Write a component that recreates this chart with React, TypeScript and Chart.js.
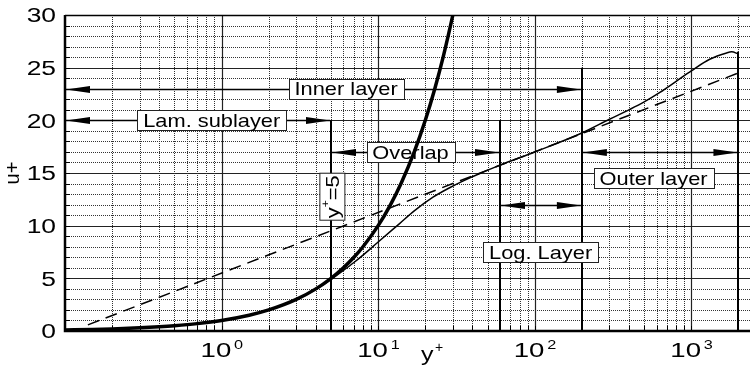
import React, { useEffect, useRef } from "react";
import { Chart, registerables } from "chart.js";

Chart.register(...registerables);

// ---- data ----
const yPlusLinear = [0.1, 0.15, 0.2, 0.3, 0.4, 0.5, 0.7, 1, 1.5, 2, 3, 4, 5, 6, 7, 8, 10, 12, 14, 17, 20, 23, 26, 30, 32];
const uLinear = [0.1, 0.15, 0.2, 0.3, 0.4, 0.5, 0.7, 1, 1.5, 2, 3, 4, 5, 6, 7, 8, 10, 12, 14, 17, 20, 23, 26, 30, 32];

const yPlusProfile = [0.1, 0.3, 1, 2, 3, 4, 5, 6, 7, 8, 10, 13.7, 17, 22.4, 28.6, 35, 44.6, 60, 100, 200, 300, 400, 500, 630, 800, 1000, 1310, 1680, 1810, 2000];
const uProfile = [0.1, 0.3, 1, 2, 2.98, 3.95, 4.9, 5.75, 6.5, 7.2, 8.45, 10.2, 11.4, 12.7, 13.6, 14.25, 14.95, 15.75, 17.0, 18.8, 20.1, 21.0, 21.75, 22.65, 23.7, 24.7, 25.8, 26.4, 26.5, 26.3];

const yPlusLogLaw = [0.14, 2000];
const uLogLaw = [0.58, 24.5];

const yTickValues = [0, 5, 10, 15, 20, 25, 30];
const xDecades = [1, 10, 100, 1000];
const xDecadeExponents = ["0", "1", "2", "3"];
const xMinorTicks = [0.2, 0.3, 0.4, 0.5, 0.6, 0.7, 0.8, 0.9, 2, 3, 4, 5, 6, 7, 8, 9, 20, 30, 40, 50, 60, 70, 80, 90, 200, 300, 400, 500, 600, 700, 800, 900, 2000];

const markerYPlus = [5, 60, 200, 2000];
const markerTopU = [20, 20, 25, 26.5];

const spanLabels = ["Inner layer", "Lam. sublayer", "Overlap", "Log. Layer", "Outer layer"];
const spanFrom = [0.1, 0.1, 5, 60, 200];
const spanTo = [200, 5, 60, 200, 2000];
const spanU = [23, 20, 17, 12, 17];
const labelYPlus = [6.24, 0.865, 16.1, 109, 574];
const labelU = [23, 20, 17, 7.5, 14.5];

const markerLabelYPlus = 5.1;
const markerLabelU = 12.75;

const FONT = '"Liberation Sans", Arial, sans-serif';

function drawText(ctx: CanvasRenderingContext2D, text: string, x: number, y: number, size: number, sx: number, align: string) {
  ctx.save();
  ctx.font = `${size}px ${FONT}`;
  const w = ctx.measureText(text).width * sx;
  const left = align === "center" ? x - w / 2 : align === "right" ? x - w : x;
  ctx.translate(left, y);
  ctx.scale(sx, 1);
  ctx.textAlign = "left";
  ctx.textBaseline = "alphabetic";
  ctx.fillStyle = "#000";
  ctx.fillText(text, 0, 0);
  ctx.restore();
  return w;
}

function measure(ctx: CanvasRenderingContext2D, text: string, size: number, sx: number) {
  ctx.save();
  ctx.font = `${size}px ${FONT}`;
  const w = ctx.measureText(text).width * sx;
  ctx.restore();
  return w;
}

function arrowHead(ctx: CanvasRenderingContext2D, tipX: number, y: number, dir: number) {
  const len = 24;
  const hw = 3.5;
  ctx.beginPath();
  ctx.moveTo(tipX, y);
  ctx.lineTo(tipX - dir * len, y - hw);
  ctx.lineTo(tipX - dir * len, y + hw);
  ctx.closePath();
  ctx.fill();
}

const layerPlugin = {
  id: "layers",
  beforeDatasetsDraw(chart: any) {
    const { ctx, chartArea: a, scales } = chart;
    const xs = scales.x;
    const ys = scales.y;
    ctx.save();
    ctx.fillStyle = "#fff";
    ctx.fillRect(a.left, a.top, a.right - a.left, a.bottom - a.top);

    // horizontal grid
    for (let u = 1; u < 30; u++) {
      const py = Math.round(ys.getPixelForValue(u)) + 0.5;
      ctx.beginPath();
      if (u % 5 === 0) {
        ctx.setLineDash([]);
        ctx.strokeStyle = "#222";
        ctx.lineWidth = 1.2;
      } else {
        ctx.setLineDash([1, 1]);
        ctx.strokeStyle = "#333";
        ctx.lineWidth = 1;
      }
      ctx.moveTo(a.left, py);
      ctx.lineTo(a.right, py);
      ctx.stroke();
    }
    // vertical grid
    for (const v of xMinorTicks) {
      const px = Math.round(xs.getPixelForValue(v)) + 0.5;
      ctx.beginPath();
      ctx.setLineDash([1, 1]);
      ctx.strokeStyle = "#333";
      ctx.lineWidth = 1;
      ctx.moveTo(px, a.top);
      ctx.lineTo(px, a.bottom);
      ctx.stroke();
    }
    for (const v of xDecades) {
      const px = Math.round(xs.getPixelForValue(v)) + 0.5;
      ctx.beginPath();
      ctx.setLineDash([]);
      ctx.strokeStyle = "#222";
      ctx.lineWidth = 1.2;
      ctx.moveTo(px, a.top);
      ctx.lineTo(px, a.bottom);
      ctx.stroke();
    }
    ctx.setLineDash([]);

    // inner tick marks
    ctx.strokeStyle = "#000";
    ctx.lineWidth = 1;
    for (let u = 1; u < 30; u++) {
      const py = Math.round(ys.getPixelForValue(u)) + 0.5;
      ctx.beginPath();
      ctx.moveTo(a.left, py);
      ctx.lineTo(a.left + 5, py);
      ctx.stroke();
    }
    for (const v of [...xMinorTicks, ...xDecades]) {
      const px = Math.round(xs.getPixelForValue(v)) + 0.5;
      ctx.beginPath();
      ctx.moveTo(px, a.bottom);
      ctx.lineTo(px, a.bottom - 5);
      ctx.stroke();
    }

    // borders
    ctx.strokeStyle = "#000";
    ctx.lineWidth = 1.5;
    ctx.beginPath();
    ctx.moveTo(a.left, a.top + 0.5);
    ctx.lineTo(a.right, a.top + 0.5);
    ctx.stroke();
    ctx.lineWidth = 2.5;
    ctx.beginPath();
    ctx.moveTo(a.left, a.top);
    ctx.lineTo(a.left, a.bottom);
    ctx.lineTo(a.right, a.bottom);
    ctx.stroke();

    // vertical markers
    ctx.lineWidth = 2;
    markerYPlus.forEach((v, i) => {
      const px = Math.round(xs.getPixelForValue(v));
      ctx.beginPath();
      ctx.moveTo(px, ys.getPixelForValue(0));
      ctx.lineTo(px, ys.getPixelForValue(markerTopU[i]));
      ctx.stroke();
    });

    // spans with arrows
    ctx.fillStyle = "#000";
    ctx.lineWidth = 1.3;
    spanLabels.forEach((_, i) => {
      const py = Math.round(ys.getPixelForValue(spanU[i])) + 0.5;
      const x1 = xs.getPixelForValue(spanFrom[i]) + 1;
      const x2 = xs.getPixelForValue(spanTo[i]) - 1;
      ctx.beginPath();
      ctx.moveTo(x1, py);
      ctx.lineTo(x2, py);
      ctx.stroke();
      arrowHead(ctx, x1, py, -1);
      arrowHead(ctx, x2, py, 1);
    });

    // label boxes
    const size = 18.5;
    const sx = 1.18;
    spanLabels.forEach((t, i) => {
      const cx = xs.getPixelForValue(labelYPlus[i]);
      const cy = ys.getPixelForValue(labelU[i]);
      const w = measure(ctx, t, size, sx);
      const bw = Math.round(w + 12);
      const bx = Math.round(cx - bw / 2) + 0.5;
      const by = Math.round(cy - 10) + 0.5;
      ctx.fillStyle = "#fff";
      ctx.fillRect(bx, by, bw, 20);
      ctx.strokeStyle = "#222";
      ctx.lineWidth = 1;
      ctx.strokeRect(bx, by, bw, 20);
      drawText(ctx, t, cx, cy + 6.6, size, sx, "center");
    });

    // y+=5 rotated label
    {
      const cx = xs.getPixelForValue(markerLabelYPlus);
      const cy = ys.getPixelForValue(markerLabelU);
      ctx.save();
      ctx.translate(cx, cy);
      ctx.rotate(-Math.PI / 2);
      ctx.fillStyle = "#fff";
      ctx.fillRect(-23.5, -12.5, 47, 25);
      ctx.strokeStyle = "#222";
      ctx.lineWidth = 1;
      ctx.strokeRect(-23.5, -12.5, 47, 25);
      const wy = measure(ctx, "y", size, sx);
      const wp = measure(ctx, "+", 11, 1.1);
      const we = measure(ctx, "=5", size, sx);
      const total = wy + wp + we;
      const x0 = -total / 2;
      drawText(ctx, "y", x0, 6.5, size, sx, "left");
      drawText(ctx, "+", x0 + wy, -3, 11, 1.1, "left");
      drawText(ctx, "=5", x0 + wy + wp, 6.5, size, sx, "left");
      ctx.restore();
    }
    ctx.restore();
  },
  afterDraw(chart: any) {
    const { ctx, scales } = chart;
    const xs = scales.x;
    const ys = scales.y;
    ctx.save();
    // y tick labels
    yTickValues.forEach((v) => {
      const py = ys.getPixelForValue(v);
      drawText(ctx, String(v), 56, py + 7.2, 20, 1.32, "right");
    });
    // x tick labels
    xDecades.forEach((v, i) => {
      const px = xs.getPixelForValue(v);
      drawText(ctx, "10", px - 21, 357, 20, 1.38, "left");
      drawText(ctx, xDecadeExponents[i], px + 12.5, 348.5, 13, 1.25, "left");
    });
    // x title
    drawText(ctx, "y", 421, 360.5, 20, 1.25, "left");
    drawText(ctx, "+", 435, 351.5, 14, 1, "left");
    // y title
    ctx.save();
    ctx.translate(19, 173);
    ctx.rotate(-Math.PI / 2);
    drawText(ctx, "u+", 0, 0, 20, 1, "center");
    ctx.restore();
    ctx.restore();
  },
};

export default function App() {
  const ref = useRef<HTMLCanvasElement | null>(null);
  useEffect(() => {
    if (!ref.current) return;
    const chart = new Chart(ref.current, {
      type: "scatter",
      data: {
        datasets: [
          {
            label: "Profile",
            data: yPlusProfile.map((x, i) => ({ x, y: uProfile[i] })),
            showLine: true,
            borderColor: "#000",
            borderWidth: 1.5,
            pointRadius: 0,
            cubicInterpolationMode: "monotone",
          },
          {
            label: "Log law",
            data: yPlusLogLaw.map((x, i) => ({ x, y: uLogLaw[i] })),
            showLine: true,
            borderColor: "#000",
            borderWidth: 1.5,
            borderDash: [12, 7],
            pointRadius: 0,
          },
          {
            label: "Linear",
            data: yPlusLinear.map((x, i) => ({ x, y: uLinear[i] })),
            showLine: true,
            borderColor: "#000",
            borderWidth: 3.5,
            pointRadius: 0,
            cubicInterpolationMode: "monotone",
          },
        ],
      },
      options: {
        responsive: false,
        animation: false,
        layout: { padding: { left: 65, right: 0, top: 15, bottom: 40 } },
        plugins: { legend: { display: false }, tooltip: { enabled: false } },
        scales: {
          x: { type: "logarithmic", min: 0.1, max: 2370, display: false },
          y: { type: "linear", min: 0, max: 30, display: false },
        },
      },
      plugins: [layerPlugin],
    });
    return () => chart.destroy();
  }, []);
  return (
    <div style={{ position: "absolute", left: 0, top: 0, width: 750, height: 371, background: "#fff" }}>
      <canvas ref={ref} width={750} height={371} style={{ display: "block" }} />
    </div>
  );
}
